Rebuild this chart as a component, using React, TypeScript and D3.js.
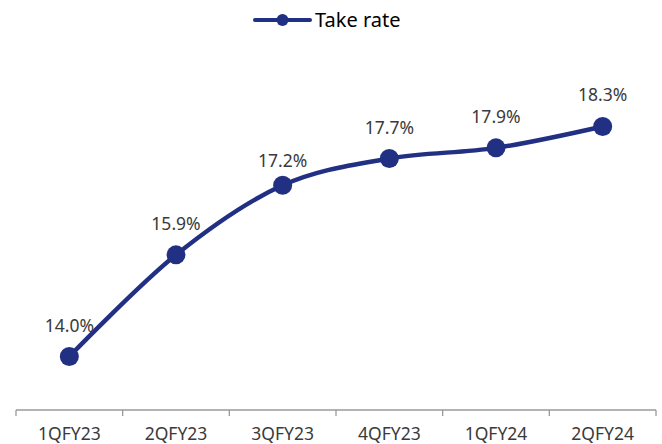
import React from "react";
import * as d3 from "d3";

const categories = ["1QFY23", "2QFY23", "3QFY23", "4QFY23", "1QFY24", "2QFY24"];
const takeRate = [14.0, 15.9, 17.2, 17.7, 17.9, 18.3];
const seriesName = "Take rate";

const W = 662;
const H = 444;
const COLOR = "#213082";
const FONT = "'Noto Sans', 'Open Sans', sans-serif";

export default function App() {
  const x = d3.scaleBand<string>().domain(categories).range([16, 656]);
  const y = d3.scaleLinear().domain([13, 20]).range([410, 35.5]);
  const line = d3
    .line<number>()
    .x((_, i) => (x(categories[i]) as number) + x.bandwidth() / 2)
    .y((d) => y(d))
    .curve(d3.curveCardinal.tension(0));
  const ticks = [...categories.map((c) => x(c) as number), 656];
  return (
    <div style={{ position: "absolute", left: 0, top: 0 }}>
      <svg width={W} height={H} style={{ display: "block" }}>
        <rect width={W} height={H} fill="#fff" />
        {/* legend */}
        <g>
          <line x1={255} x2={310} y1={20} y2={20} stroke={COLOR} strokeWidth={4} strokeLinecap="round" />
          <circle cx={282.5} cy={20} r={6} fill={COLOR} />
          <text x={315} y={27} fontSize={20} fontFamily={FONT} fill="#000">
            {seriesName}
          </text>
        </g>
        {/* axis */}
        <line x1={16} x2={656} y1={410} y2={410} stroke="#9a9a9a" strokeWidth={1.3} />
        {ticks.map((t, i) => (
          <line key={i} x1={t} x2={t} y1={410} y2={416} stroke="#9a9a9a" strokeWidth={1.3} />
        ))}
        {categories.map((c) => (
          <text
            key={c}
            x={(x(c) as number) + x.bandwidth() / 2}
            y={440}
            textAnchor="middle"
            fontSize={17.5}
            fontFamily={FONT}
            fill="#3a3a3a"
          >
            {c}
          </text>
        ))}
        {/* line */}
        <path d={line(takeRate) || ""} fill="none" stroke={COLOR} strokeWidth={4.5} />
        {takeRate.map((v, i) => {
          const cx = (x(categories[i]) as number) + x.bandwidth() / 2;
          const dy = i === 2 ? 18.5 : 25;
          return (
            <g key={i}>
              <circle cx={cx} cy={y(v)} r={9.5} fill={COLOR} />
              <text x={cx} y={y(v) - dy} textAnchor="middle" fontSize={17.5} fontFamily={FONT} fill="#3a3a3a">
                {v.toFixed(1) + "%"}
              </text>
            </g>
          );
        })}
      </svg>
    </div>
  );
}
